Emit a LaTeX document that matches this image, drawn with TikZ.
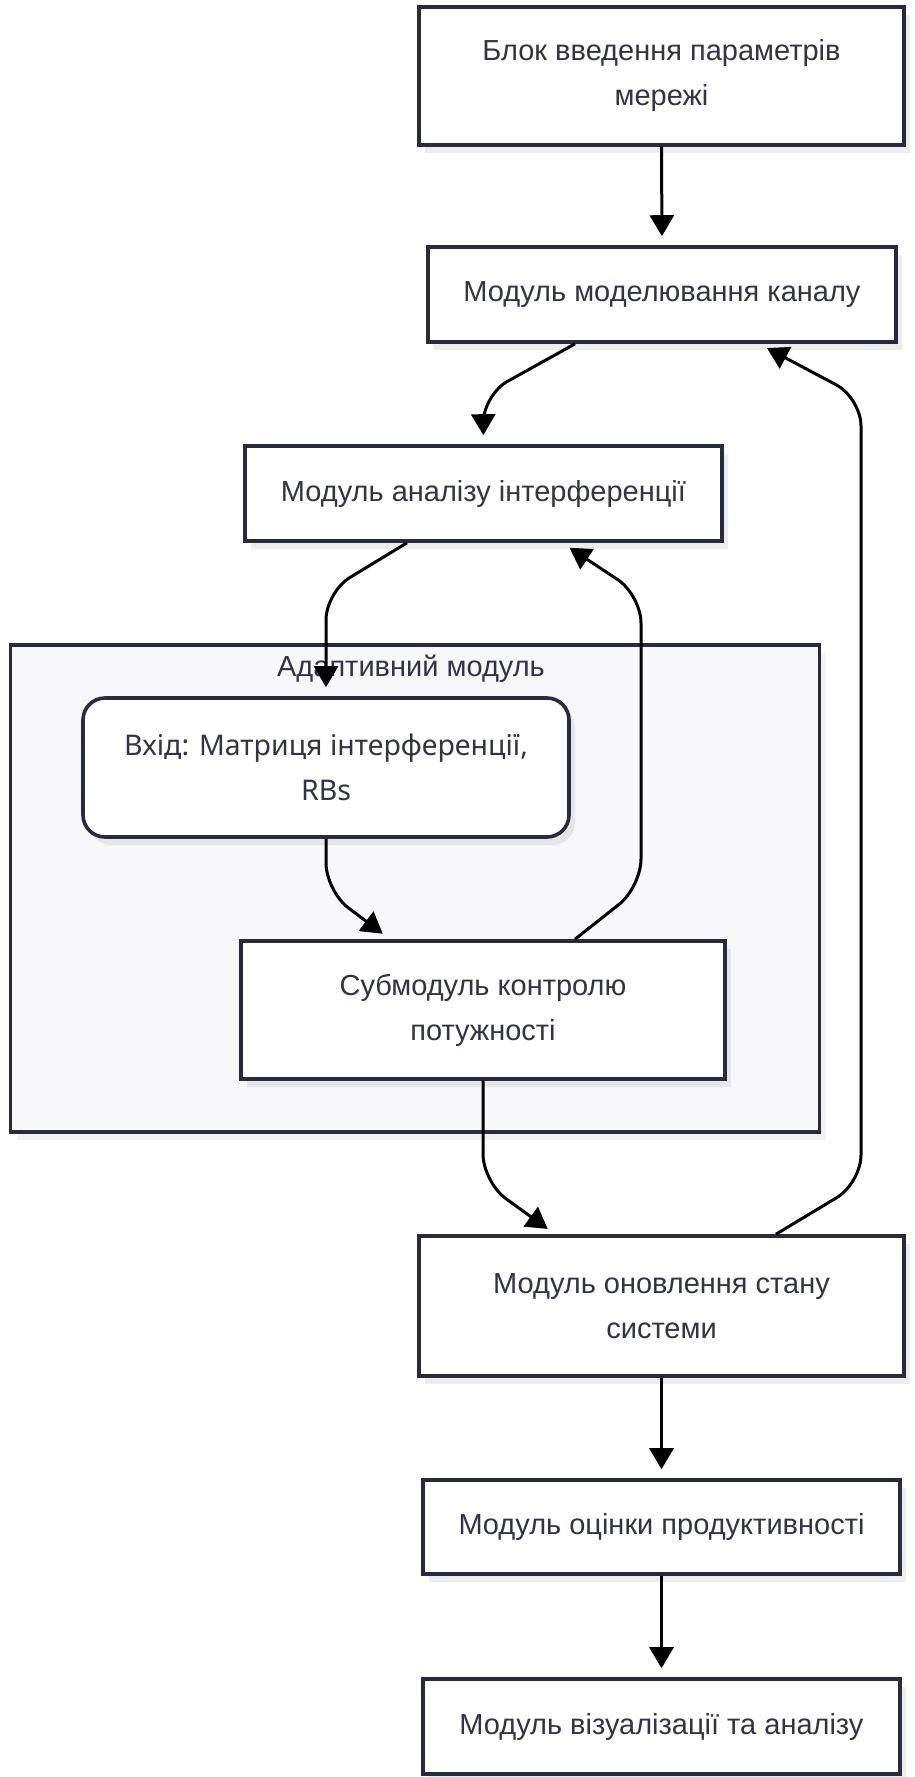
\documentclass[tikz,border=0pt]{standalone}
\usepackage{fontspec}
\setmainfont{Liberation Sans}
\newfontfamily\inputfont{Noto Sans}
\usetikzlibrary{arrows.meta,shadows,calc}

\definecolor{edgeline}{RGB}{42,42,62}
\definecolor{labeltext}{RGB}{51,51,72}
\definecolor{groupfill}{RGB}{248,248,250}

\tikzset{
  module/.style={draw=edgeline, line width=3.6pt, fill=white, text=labeltext,
    align=center, inner sep=0pt,
    font=\fontsize{29}{45}\selectfont,
    drop shadow={shadow xshift=6pt, shadow yshift=-8pt, fill=black, opacity=0.07}},
  inputbox/.style={module, rounded corners=22pt,
    font=\inputfont\fontsize{28.5}{45}\selectfont},
  group/.style={draw=edgeline, line width=3.4pt, fill=groupfill,
    drop shadow={shadow xshift=6pt, shadow yshift=-8pt, fill=black, opacity=0.05}},
  grouplabel/.style={text=labeltext, font=\fontsize{29}{45}\selectfont, inner sep=0pt},
  flow/.style={draw=black, line width=3pt, rounded corners=28pt,
    -{Triangle[length=21pt,width=24pt]}, shorten >=9pt}
}

\begin{document}
\begin{tikzpicture}[x=1pt, y=-1pt]
\useasboundingbox (0,0) rectangle (915,1777);

% adaptive module group
\node[group, minimum width=809pt, minimum height=487pt] (grp) at (415,888.5) {};
\node[grouplabel] (grplabel) at (411,669) {Адаптивний модуль};

% main chain
\node[module, minimum width=485pt, minimum height=138pt] (input) at (661.5,76)
  {Блок введення параметрів\\мережі};
\node[module, minimum width=468pt, minimum height=95pt] (channel) at (662,294.5)
  {Модуль моделювання каналу};
\node[module, minimum width=477pt, minimum height=95pt] (interf) at (483.5,493.5)
  {Модуль аналізу інтерференції};
\node[inputbox, minimum width=486pt, minimum height=139pt] (matrix) at (326,767.5)
  {Вхід: Матриця інтерференції,\\RBs};
\node[module, minimum width=484pt, minimum height=138pt] (power) at (483,1010)
  {Субмодуль контролю\\потужності};
\node[module, minimum width=485pt, minimum height=140pt] (update) at (661.5,1306)
  {Модуль оновлення стану\\системи};
\node[module, minimum width=477pt, minimum height=94pt] (perf) at (661.5,1527)
  {Модуль оцінки продуктивності};
\node[module, minimum width=477pt, minimum height=95pt] (viz) at (661.5,1726.5)
  {Модуль візуалізації та аналізу};

% connectors
\draw[flow] (input.south) -- (channel.north);
\draw[flow] ([xshift=-87pt]channel.south) -- (483,395) -- (interf.north);
\draw[flow] ([xshift=-76.5pt]interf.south) -- (326,592) -- (matrix.north);
\draw[flow] (matrix.south) -- (326,891) -- ([xshift=-93pt]power.north);
\draw[flow] ([xshift=92pt]power.north) -- (641,887) -- (641,595) -- ([xshift=78.5pt]interf.south);
\draw[flow] (power.south) -- (483,1182) -- ([xshift=-106.5pt]update.north);
\draw[flow] ([xshift=114.5pt]update.north) -- (861,1183) -- (861,398) -- ([xshift=97pt]channel.south);
\draw[flow] (update.south) -- (perf.north);
\draw[flow] (perf.south) -- (viz.north);
\end{tikzpicture}
\end{document}
